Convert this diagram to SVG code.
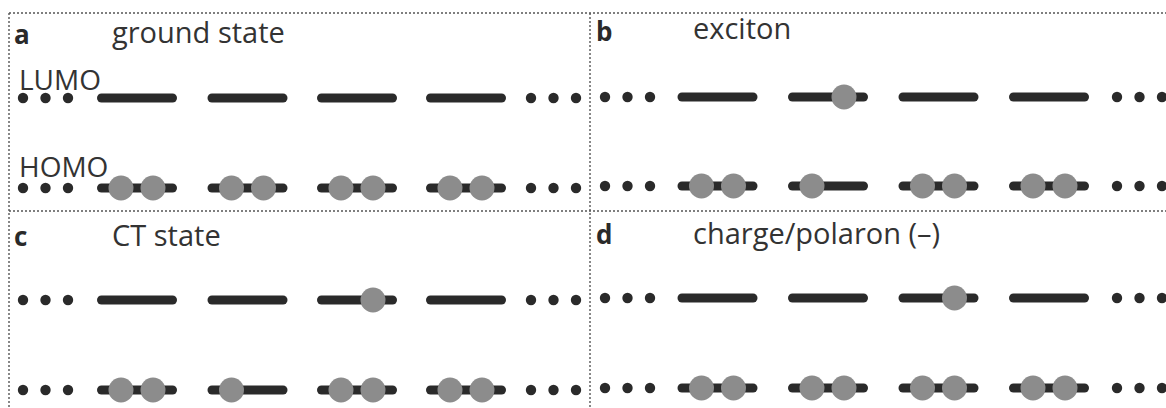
<svg xmlns="http://www.w3.org/2000/svg" xmlns:xlink="http://www.w3.org/1999/xlink" width="1166" height="408" viewBox="0 0 1166 408">
<style>
.frame{stroke:#555;stroke-width:1.4;stroke-dasharray:2 2;fill:none}
.lvl{stroke:#2a2a2a;stroke-width:9;stroke-linecap:round;fill:none}
.dot{fill:#2a2a2a}
.el{fill:#8c8c8c}
.t{font-family:"Open Sans","Noto Sans",sans-serif;font-size:29px;fill:#333}
.t2{font-family:"Open Sans","Noto Sans",sans-serif;font-size:28px;fill:#333}
.lab{font-family:"Open Sans","Noto Sans",sans-serif;font-size:26px;font-weight:bold;fill:#2a2a2a}
</style>
<defs>
<path id="L" class="lvl" d="M-35.5 0H35.5"/>
<g id="dots"><circle class="dot" cx="0" cy="0" r="5.2"/><circle class="dot" cx="22.5" cy="0" r="5.2"/><circle class="dot" cx="45" cy="0" r="5.2"/></g>
<g id="E2"><use xlink:href="#L"/><circle class="el" cx="-16" cy="0" r="12.5"/><circle class="el" cx="16" cy="0" r="12.5"/></g>
<g id="EL"><use xlink:href="#L"/><circle class="el" cx="-16" cy="0" r="12.5"/></g>
<g id="ER"><use xlink:href="#L"/><circle class="el" cx="16" cy="0" r="12.5"/></g>
</defs>
<g id="frame">
<path class="frame" d="M9 13H1166M9 13V408M590 13V408M9 211H1166"/>
</g>
<g id="panel-a">
<text class="lab" x="14" y="44">a</text>
<text class="t" x="112" y="43">ground state</text>
<text class="t2" x="19" y="90">LUMO</text>
<text class="t2" x="19" y="177">HOMO</text>
<g id="a-lumo">
<use xlink:href="#dots" x="23" y="98"/>
<use xlink:href="#L" x="137" y="98"/><use xlink:href="#L" x="247.5" y="98"/><use xlink:href="#L" x="357" y="98"/><use xlink:href="#L" x="466" y="98"/>
<use xlink:href="#dots" x="531" y="98"/>
</g>
<g id="a-homo">
<use xlink:href="#dots" x="23" y="188"/>
<use xlink:href="#E2" x="137" y="188"/><use xlink:href="#E2" x="247.5" y="188"/><use xlink:href="#E2" x="357" y="188"/><use xlink:href="#E2" x="466" y="188"/>
<use xlink:href="#dots" x="531" y="188"/>
</g>
</g>
<g id="panel-b">
<text class="lab" x="596" y="41">b</text>
<text class="t" x="693" y="39">exciton</text>
<g id="b-lumo">
<use xlink:href="#dots" x="605" y="97"/>
<use xlink:href="#L" x="717.5" y="97"/><use xlink:href="#ER" x="828" y="97"/><use xlink:href="#L" x="938.5" y="97"/><use xlink:href="#L" x="1049" y="97"/>
<use xlink:href="#dots" x="1117" y="97"/>
</g>
<g id="b-homo">
<use xlink:href="#dots" x="605" y="186"/>
<use xlink:href="#E2" x="717.5" y="186"/><use xlink:href="#EL" x="828" y="186"/><use xlink:href="#E2" x="938.5" y="186"/><use xlink:href="#E2" x="1049" y="186"/>
<use xlink:href="#dots" x="1117" y="186"/>
</g>
</g>
<g id="panel-c">
<text class="lab" x="14" y="246">c</text>
<text class="t" x="112" y="246">CT state</text>
<g id="c-lumo">
<use xlink:href="#dots" x="23" y="300"/>
<use xlink:href="#L" x="137" y="300"/><use xlink:href="#L" x="247.5" y="300"/><use xlink:href="#ER" x="357" y="300"/><use xlink:href="#L" x="466" y="300"/>
<use xlink:href="#dots" x="531" y="300"/>
</g>
<g id="c-homo">
<use xlink:href="#dots" x="23" y="390"/>
<use xlink:href="#E2" x="137" y="390"/><use xlink:href="#EL" x="247.5" y="390"/><use xlink:href="#E2" x="357" y="390"/><use xlink:href="#E2" x="466" y="390"/>
<use xlink:href="#dots" x="531" y="390"/>
</g>
</g>
<g id="panel-d">
<text class="lab" x="596" y="244">d</text>
<text class="t" x="693" y="244">charge/polaron (–)</text>
<g id="d-lumo">
<use xlink:href="#dots" x="605" y="298"/>
<use xlink:href="#L" x="717.5" y="298"/><use xlink:href="#L" x="828" y="298"/><use xlink:href="#ER" x="938.5" y="298"/><use xlink:href="#L" x="1049" y="298"/>
<use xlink:href="#dots" x="1117" y="298"/>
</g>
<g id="d-homo">
<use xlink:href="#dots" x="605" y="388"/>
<use xlink:href="#E2" x="717.5" y="388"/><use xlink:href="#E2" x="828" y="388"/><use xlink:href="#E2" x="938.5" y="388"/><use xlink:href="#E2" x="1049" y="388"/>
<use xlink:href="#dots" x="1117" y="388"/>
</g>
</g>
</svg>
